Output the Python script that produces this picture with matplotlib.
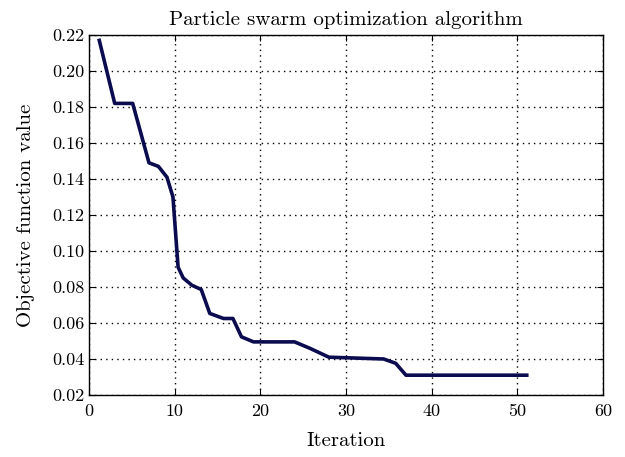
import matplotlib
matplotlib.use('Agg')
import matplotlib.pyplot as plt

# best objective value found so far
iteration = [1.2, 3, 5.1, 7, 8.1, 9.1, 9.8, 10.4, 11, 12, 13.1, 14.1, 15.7,
             16.8, 17.8, 19.2, 24, 25.8, 28, 34.4, 35.8, 37, 51.1]
objective = [0.217, 0.182, 0.182, 0.149, 0.147, 0.141, 0.130, 0.091, 0.085,
             0.081, 0.0786, 0.0653, 0.0625, 0.0625, 0.0523, 0.0495, 0.0495,
             0.0459, 0.041, 0.040, 0.0376, 0.031, 0.031]

x_ticks = [0, 10, 20, 30, 40, 50, 60]
y_ticks = [0.02, 0.04, 0.06, 0.08, 0.10, 0.12, 0.14, 0.16, 0.18, 0.20, 0.22]

plt.rcParams['font.family'] = 'serif'
plt.rcParams['font.serif'] = ['cmr10', 'DejaVu Serif']
plt.rcParams['mathtext.fontset'] = 'cm'
plt.rcParams['axes.formatter.use_mathtext'] = True

fig = plt.figure(figsize=(6.25, 4.57), dpi=100)
ax = fig.add_axes([0.1424, 0.1357, 0.8224, 0.7877])

ax.plot(iteration, objective, color='#0b0b4f', linewidth=2.6)

ax.set_xlim(0, 60)
ax.set_ylim(0.02, 0.22)
ax.set_xticks(x_ticks)
ax.set_yticks(y_ticks)
ax.set_xticklabels([str(t) for t in x_ticks])
ax.set_yticklabels(['{:.2f}'.format(t) for t in y_ticks])
ax.grid(True, color='black', linestyle=(0, (1, 3)), linewidth=1.0)
ax.tick_params(direction='in', top=True, right=True, labelsize=13, length=4)
ax.tick_params(axis='x', pad=6)
for spine in ax.spines.values():
    spine.set_linewidth(1.0)

ax.set_title('Particle swarm optimization algorithm', fontsize=15, pad=7)
ax.set_xlabel('Iteration', fontsize=15, labelpad=10)
ax.set_ylabel('Objective function value', fontsize=15, labelpad=12)

fig.savefig('out.png', dpi=100)
